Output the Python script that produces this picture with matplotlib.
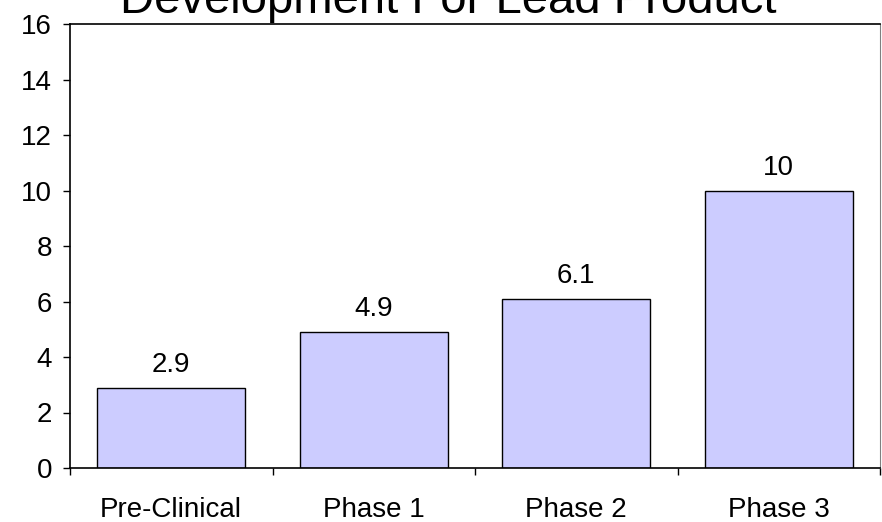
import numpy as np
import matplotlib.pyplot as plt

plt.rcParams['font.family'] = ['Liberation Sans', 'DejaVu Sans']

stages = ['Pre-Clinical', 'Phase 1', 'Phase 2', 'Phase 3']
values = [2.9, 4.9, 6.1, 10]
y_ticks = [0, 2, 4, 6, 8, 10, 12, 14, 16]
title = 'Development For Lead Product'

fig = plt.figure(figsize=(8.82, 5.22), dpi=100)
ax = fig.add_axes([70/882, 54/522, 810/882, 444/522])

x = np.arange(len(stages))
bars = ax.bar(x, values, width=0.73, color='#CCCCFF', edgecolor='black', linewidth=1)

for xi, v in zip(x, values):
    ax.annotate(f'{v:g}', (xi, v), textcoords='offset points', xytext=(0, 7),
                ha='center', va='bottom', fontsize=20)

ax.set_xlim(-0.5, len(stages) - 0.5)
ax.set_ylim(0, 16)
ax.set_yticks(y_ticks)
ax.tick_params(axis='y', direction='out', length=5, width=1, labelsize=20, pad=8)

# ticks between categories, labels at centres
ax.set_xticks(np.arange(-0.5, len(stages)), labels=[''] * (len(stages) + 1))
ax.set_xticks(x, labels=stages, minor=True)
ax.tick_params(axis='x', which='major', direction='out', length=5, width=1)
ax.tick_params(axis='x', which='minor', length=0, labelsize=20, pad=21)

ax.spines['right'].set_color('#808080')
ax.spines['right'].set_linewidth(0.8)
for s in ['left', 'bottom', 'top']:
    ax.spines[s].set_linewidth(1.2)

fig.text(448/882, 1 - 13/522, title, ha='center', va='baseline', fontsize=34)

plt.savefig('out.png', dpi=100)
